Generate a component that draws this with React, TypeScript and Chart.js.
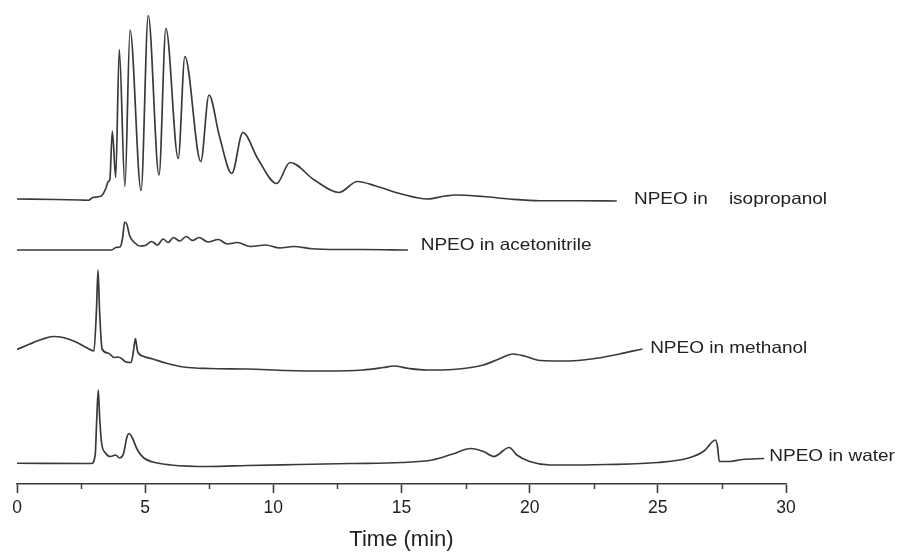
import React, { useEffect, useRef } from "react";
import { Chart, registerables } from "chart.js";

Chart.register(...registerables);

// ---- Data (time in min, intensity in arbitrary units relative to each trace's baseline) ----
const TIME_ISO = [0, 1.5, 2.46, 2.8, 2.95, 3.24, 3.36, 3.47, 3.56, 3.62, 3.72, 3.85, 3.99, 4.21, 4.41, 4.84, 5.12, 5.54, 5.81, 6.29, 6.55, 7.17, 7.49, 7.9, 8.38, 8.81, 9.4, 10.13, 10.65, 11.6, 12.56, 13.28, 14.0, 15.0, 16.0, 16.7, 17.1, 18.2, 19.2, 20.4, 22.0, 23.4];
const INT_ISO = [0, -0.1, -0.2, -0.25, 0.3, 0.5, 1.0, 2.2, 3.5, 3.8, 13.6, 4.3, 29.9, 2.5, 33.8, 1.7, 36.7, 4.8, 34.1, 8.1, 28.5, 7.5, 20.8, 12.5, 5.1, 13.3, 8.0, 3.1, 7.3, 3.8, 1.3, 3.5, 2.6, 1.0, 0, 0.6, 0.8, 0.5, 0, -0.35, -0.35, -0.4];

const TIME_ACN = [0, 3.7, 3.85, 4.02, 4.12, 4.2, 4.28, 4.4, 4.6, 4.8, 5.0, 5.25, 5.48, 5.7, 5.9, 6.1, 6.35, 6.6, 6.85, 7.1, 7.45, 7.85, 8.2, 8.6, 9.1, 9.7, 10.25, 10.8, 11.5, 12.5, 13.5, 15.25];
const INT_ACN = [0, 0, 0.5, 0.6, 2.4, 5.6, 5.2, 2.8, 1.4, 0.8, 0.9, 1.7, 1.0, 2.2, 1.5, 2.5, 1.8, 2.7, 1.9, 2.5, 1.6, 2.1, 1.2, 1.5, 0.7, 1.0, 0.4, 0.7, 0.25, 0.1, 0.1, 0];

const TIME_MEOH = [0, 0.5, 1.0, 1.4, 1.8, 2.3, 2.7, 3.0, 3.1, 3.16, 3.22, 3.32, 3.55, 3.8, 3.95, 4.1, 4.25, 4.45, 4.55, 4.62, 4.7, 4.9, 5.3, 5.8, 6.5, 7.5, 9.0, 10.5, 12.0, 13.5, 14.3, 14.7, 15.3, 16.0, 17.0, 18.2, 18.8, 19.35, 19.8, 20.4, 21.5, 22.7, 23.5, 24.4];
const INT_MEOH = [4.1, 5.2, 6.2, 6.7, 6.5, 5.6, 4.5, 3.8, 12, 20, 12, 4.2, 3.4, 2.5, 2.6, 2.2, 1.6, 1.5, 4.0, 6.3, 3.8, 2.8, 2.2, 1.4, 0.6, 0.3, 0.2, -0.1, -0.2, 0, 0.5, 0.8, 0.3, 0, 0.1, 1.0, 2.2, 3.2, 2.8, 1.9, 1.8, 2.4, 3.2, 4.2];

const TIME_WATER = [0, 2.9, 3.05, 3.11, 3.17, 3.23, 3.3, 3.45, 3.65, 3.85, 4.0, 4.15, 4.3, 4.38, 4.5, 4.7, 4.95, 5.3, 6.0, 7.5, 9.0, 11.0, 13.0, 15.0, 16.2, 17.0, 17.7, 18.2, 18.6, 19.2, 19.5, 20.0, 20.8, 23.0, 25.0, 26.2, 26.8, 27.25, 27.33, 27.4, 27.8, 28.3, 29.15];
const INT_WATER = [0.35, 0.3, 2.0, 9, 15, 9, 4.4, 2.4, 1.7, 2.0, 1.4, 2.2, 5.8, 6.3, 5.4, 3.0, 1.4, 0.6, 0, -0.3, -0.1, 0.1, 0.3, 0.5, 1.0, 2.2, 3.3, 2.7, 1.7, 3.5, 2.0, 0.7, 0, 0.1, 0.5, 1.4, 2.8, 5.0, 3.6, 0.7, 0.7, 1.1, 1.3];

// vertical offsets of the stacked traces
const OFFSETS = [57.0, 46.8, 22.8, 3.8];

const SERIES_NAMES = ["NPEO in    isopropanol", "NPEO in acetonitrile", "NPEO in methanol", "NPEO in water"];
const LABEL_X = [24.07, 15.75, 24.7, 29.35];
const LABEL_Y = [57.0, 47.7, 27.2, 5.5];

const X_TICKS = [0, 5, 10, 15, 20, 25, 30];
const X_MINOR = [2.5, 7.5, 12.5, 17.5, 22.5, 27.5];
const X_TITLE = "Time (min)";

const LINE_COLOR = "#3a3a3a";
const FONT_FAMILY = "'Liberation Sans', Arial, Helvetica, sans-serif";

function toPoints(times: number[], ints: number[], off: number) {
  return times.map((t, i) => ({ x: t, y: off + ints[i] }));
}

const labelPlugin = {
  id: "traceLabels",
  afterDraw(chart: any) {
    const { ctx, scales } = chart;
    const xs = scales.x;
    const ys = scales.y;
    ctx.save();
    // minor ticks
    ctx.strokeStyle = LINE_COLOR;
    ctx.lineWidth = 1.5;
    const bottom = chart.chartArea.bottom;
    X_MINOR.forEach((v) => {
      const px = Math.round(xs.getPixelForValue(v)) + 0.5;
      ctx.beginPath();
      ctx.moveTo(px, bottom);
      ctx.lineTo(px, bottom + 5);
      ctx.stroke();
    });
    // trace labels
    ctx.fillStyle = "#222222";
    ctx.font = `16.5px ${FONT_FAMILY}`;
    ctx.textBaseline = "middle";
    ctx.textAlign = "left";
    SERIES_NAMES.forEach((name, i) => {
      const px = xs.getPixelForValue(LABEL_X[i]);
      const py = ys.getPixelForValue(LABEL_Y[i]);
      ctx.save();
      ctx.translate(px, py);
      ctx.scale(1.15, 1);
      ctx.fillText(name, 0, 0);
      ctx.restore();
    });
    ctx.restore();
  },
};

export default function App() {
  const canvasRef = useRef<HTMLCanvasElement | null>(null);

  useEffect(() => {
    const canvas = canvasRef.current;
    if (!canvas) return;
    const datasets = [
      toPoints(TIME_ISO, INT_ISO, OFFSETS[0]),
      toPoints(TIME_ACN, INT_ACN, OFFSETS[1]),
      toPoints(TIME_MEOH, INT_MEOH, OFFSETS[2]),
      toPoints(TIME_WATER, INT_WATER, OFFSETS[3]),
    ].map((data, i) => ({
      label: SERIES_NAMES[i],
      data,
      borderColor: LINE_COLOR,
      borderWidth: 1.7,
      pointRadius: 0,
      fill: false,
      cubicInterpolationMode: "monotone" as const,
    }));

    const chart = new Chart(canvas, {
      type: "line",
      data: { datasets },
      plugins: [labelPlugin],
      options: {
        animation: false,
        responsive: false,
        maintainAspectRatio: false,
        layout: { padding: { left: 17, right: 116, top: 0, bottom: 0 } },
        plugins: { legend: { display: false }, tooltip: { enabled: false } },
        scales: {
          x: {
            type: "linear",
            min: 0,
            max: 30,
            afterBuildTicks: (scale: any) => {
              scale.ticks = X_TICKS.map((v) => ({ value: v }));
            },
            afterFit: (scale: any) => {
              scale.height = 71;
            },
            border: { display: true, color: LINE_COLOR, width: 1.6 },
            grid: {
              drawOnChartArea: false,
              drawTicks: true,
              tickLength: 9,
              tickColor: LINE_COLOR,
              tickWidth: 1.6,
            },
            ticks: {
              color: "#222222",
              padding: 5,
              maxRotation: 0,
              font: { family: FONT_FAMILY, size: 17.5 },
            },
            title: {
              display: true,
              text: X_TITLE,
              color: "#222222",
              font: { family: FONT_FAMILY, size: 22 },
              padding: { top: 0, bottom: 2 },
            },
          },
          y: {
            display: false,
            min: 0,
            max: 96.8,
          },
        },
      },
    });
    return () => chart.destroy();
  }, []);

  return (
    <div style={{ position: "fixed", left: 0, top: 0, width: 902, height: 555, background: "#ffffff" }}>
      <canvas ref={canvasRef} width={902} height={555} style={{ display: "block" }} />
    </div>
  );
}
